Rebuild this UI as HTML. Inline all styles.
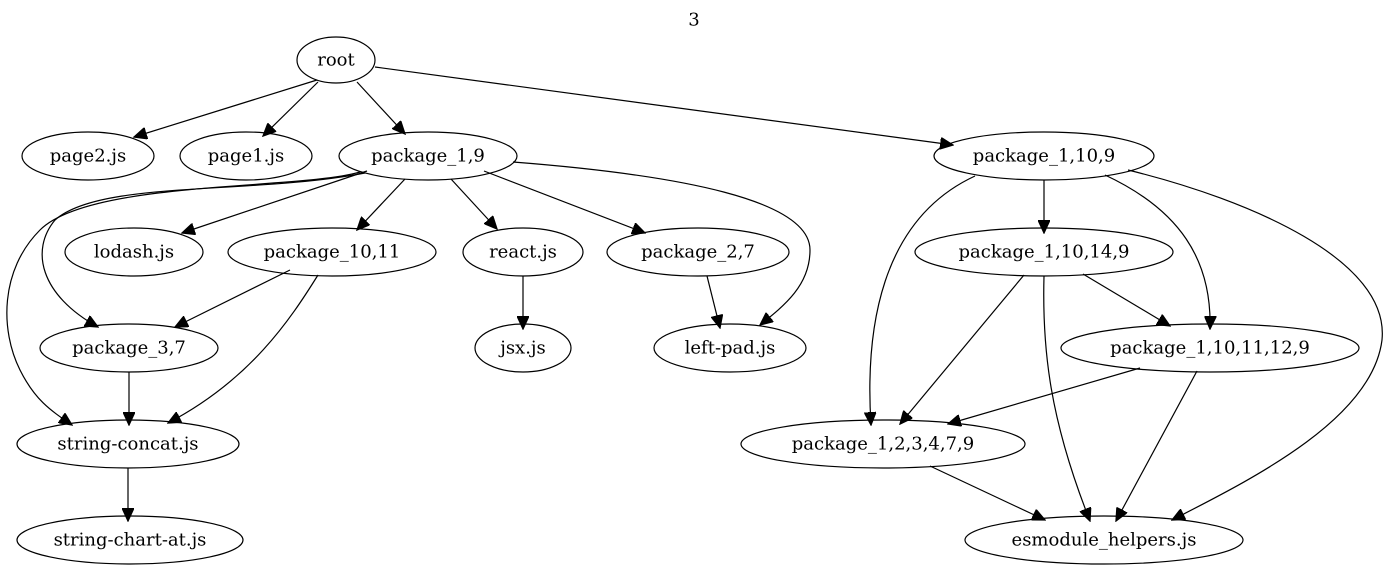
<!DOCTYPE html>
<html><head><meta charset="utf-8"><style>
html,body{margin:0;padding:0;background:#fff;width:1388px;height:569px;overflow:hidden}
text{font-family:"DejaVu Serif",serif;font-size:18px;text-anchor:middle;dominant-baseline:central;fill:#000}
ellipse{fill:none;stroke:#000;stroke-width:1.2}
path{fill:none;stroke:#000;stroke-width:1.2}
</style></head><body>
<svg width="1388" height="569" xmlns="http://www.w3.org/2000/svg">
<defs><marker id="a" markerUnits="userSpaceOnUse" markerWidth="14" markerHeight="12" refX="12" refY="5.5" orient="auto" viewBox="0 0 13 11"><path d="M0,0 L12,5.5 L0,11 z" style="fill:#000;stroke:#000"/></marker></defs>
<text x="694" y="20">3</text>
<g>
<ellipse cx="336" cy="60" rx="39" ry="23"/><text x="336" y="60">root</text>
<ellipse cx="88" cy="156" rx="66" ry="24"/><text x="88" y="156">page2.js</text>
<ellipse cx="246" cy="156" rx="66" ry="24"/><text x="246" y="156">page1.js</text>
<ellipse cx="428" cy="156" rx="89" ry="24"/><text x="428" y="156">package_1,9</text>
<ellipse cx="1044" cy="156" rx="110" ry="24"/><text x="1044" y="156">package_1,10,9</text>
<ellipse cx="134" cy="252" rx="69" ry="24"/><text x="134" y="252">lodash.js</text>
<ellipse cx="332" cy="252" rx="104" ry="24"/><text x="332" y="252">package_10,11</text>
<ellipse cx="523" cy="252" rx="60" ry="24"/><text x="523" y="252">react.js</text>
<ellipse cx="698" cy="252" rx="91" ry="24"/><text x="698" y="252">package_2,7</text>
<ellipse cx="1044" cy="252" rx="129" ry="24"/><text x="1044" y="252">package_1,10,14,9</text>
<ellipse cx="129" cy="348" rx="89" ry="24"/><text x="129" y="348">package_3,7</text>
<ellipse cx="523" cy="348" rx="48" ry="24"/><text x="523" y="348">jsx.js</text>
<ellipse cx="730" cy="348" rx="76" ry="24"/><text x="730" y="348">left-pad.js</text>
<ellipse cx="1210" cy="348" rx="149" ry="24"/><text x="1210" y="348">package_1,10,11,12,9</text>
<ellipse cx="128" cy="444" rx="111" ry="24"/><text x="128" y="444">string-concat.js</text>
<ellipse cx="883" cy="444" rx="142" ry="24"/><text x="883" y="444">package_1,2,3,4,7,9</text>
<ellipse cx="130" cy="540" rx="113" ry="24"/><text x="130" y="540">string-chart-at.js</text>
<ellipse cx="1104" cy="540" rx="139" ry="24"/><text x="1104" y="540">esmodule_helpers.js</text>
</g>
<g marker-end="url(#a)">
<path d="M317,80 L134,137"/>
<path d="M318,82 L263,136"/>
<path d="M357,82 L405,134"/>
<path d="M375,67 L953,145"/>
<path d="M367,171 L182,233"/>
<path d="M405,179 L357,230"/>
<path d="M451,179 L497,229"/>
<path d="M484,171 L645,233"/>
<path d="M513,162 C680,175 810,200 810,250 C810,285 785,305 760,325"/>
<path d="M365,173 C250,195 100,180 55,220 C30,250 40,295 98,327"/>
<path d="M360,172 C300,190 90,180 40,230 C0,270 0,330 20,370 C35,400 50,410 72,425"/>
<path d="M290,270 L175,327"/>
<path d="M318,275 C290,320 250,380 168,423"/>
<path d="M523,276 L523,329"/>
<path d="M707,276 L720,328"/>
<path d="M129,372 L129,425"/>
<path d="M128,468 L128,521"/>
<path d="M1044,180 L1044,233"/>
<path d="M975,176 C880,220 865,330 871,425"/>
<path d="M1105,175 C1180,210 1212,260 1210,329"/>
<path d="M1128,170 C1250,200 1390,260 1382,340 C1372,420 1250,480 1172,520"/>
<path d="M1083,274 L1170,326"/>
<path d="M1024,275 L900,424"/>
<path d="M1044,276 C1042,350 1050,420 1090,521"/>
<path d="M1140,368 L948,424"/>
<path d="M1197,371 L1116,521"/>
<path d="M930,466 L1045,520"/>
</g>
</svg>
</body></html>
